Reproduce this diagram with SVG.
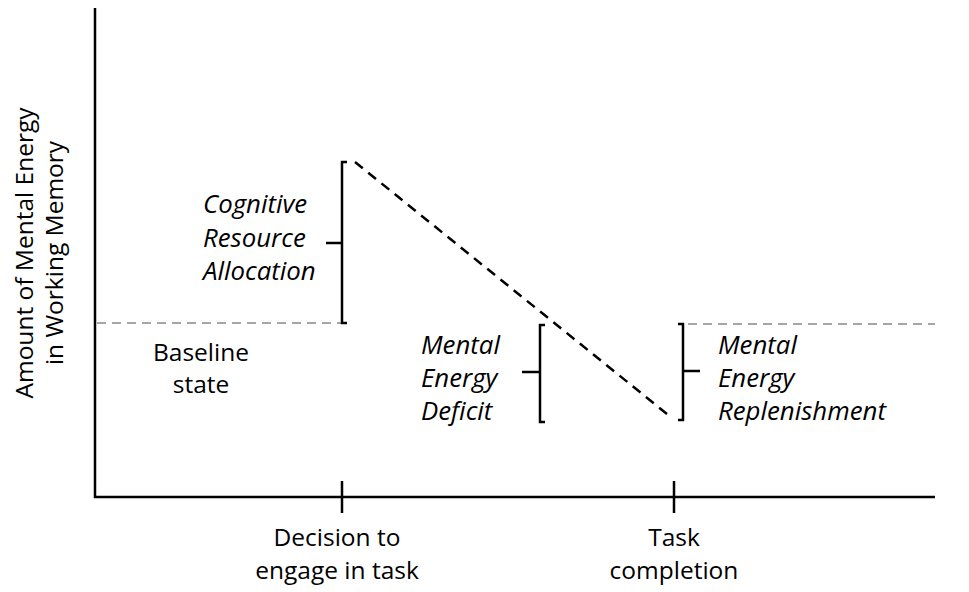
<svg xmlns="http://www.w3.org/2000/svg" width="969" height="592" viewBox="0 0 969 592">
<style>
  .axis{stroke:#000;stroke-width:2.5;fill:none}
  .br{stroke:#000;stroke-width:2.5;fill:none}
  .base{stroke:#a6a6a6;stroke-width:2;stroke-dasharray:9,6;fill:none}
  .trend{stroke:#000;stroke-width:2.5;stroke-dasharray:10,7;fill:none}
  .lbl{font-family:"Open Sans","Liberation Sans",sans-serif;font-size:24.5px;fill:#000}
  .it{font-style:italic;font-size:25.8px}
</style>
<rect width="969" height="592" fill="#fff"/>
<g id="axes">
  <path class="axis" d="M95,8 V497 H935"/>
  <path class="axis" d="M342,481 V513 M674,481 V513"/>
</g>
<g id="connectors">
  <path class="base" d="M97,323 H343"/>
  <path class="base" d="M688,324 H935"/>
  <path class="trend" d="M355,162 L672,418"/>
</g>
<g id="cognitive">
  <path class="br" d="M347,162 H342 V323 H347 M326,243 H342"/>
  <text class="lbl it" x="203" y="213">Cognitive</text>
  <text class="lbl it" x="203" y="247">Resource</text>
  <text class="lbl it" x="203" y="280">Allocation</text>
</g>
<g id="baseline">
  <text class="lbl" x="201" y="361" text-anchor="middle">Baseline</text>
  <text class="lbl" x="201" y="393" text-anchor="middle">state</text>
</g>
<g id="deficit">
  <path class="br" d="M545,325 H540 V422 H545 M522,372 H540"/>
  <text class="lbl it" x="421" y="354">Mental</text>
  <text class="lbl it" x="421" y="387">Energy</text>
  <text class="lbl it" x="421" y="420">Deficit</text>
</g>
<g id="replenishment">
  <path class="br" d="M678,324 H683 V420 H678 M683,371 H700"/>
  <text class="lbl it" x="718" y="354">Mental</text>
  <text class="lbl it" x="718" y="387">Energy</text>
  <text class="lbl it" x="718" y="420">Replenishment</text>
</g>
<g id="decision">
  <text class="lbl" x="337" y="546" text-anchor="middle">Decision to</text>
  <text class="lbl" x="337" y="579" text-anchor="middle">engage in task</text>
</g>
<g id="completion">
  <text class="lbl" x="674" y="546" text-anchor="middle">Task</text>
  <text class="lbl" x="674" y="579" text-anchor="middle">completion</text>
</g>
<g id="ylabel">
  <text class="lbl" transform="translate(33,253) rotate(-90)" text-anchor="middle">Amount of Mental Energy</text>
  <text class="lbl" transform="translate(63,253) rotate(-90)" text-anchor="middle">in Working Memory</text>
</g>
</svg>
